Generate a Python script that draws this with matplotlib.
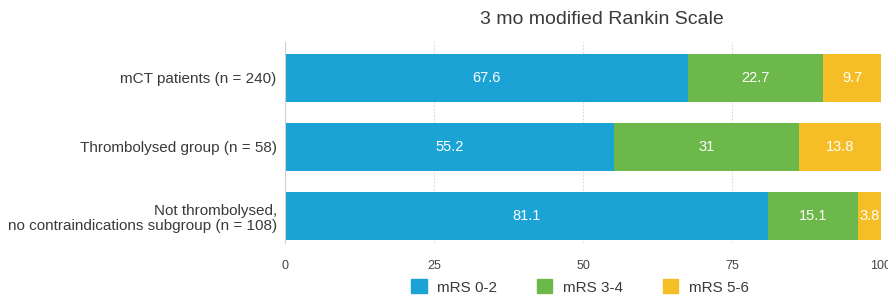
import numpy as np
import matplotlib.pyplot as plt
from matplotlib.patches import Patch

plt.rcParams['font.family'] = ['Liberation Sans', 'DejaVu Sans']

groups = ['mCT patients (n = 240)',
          'Thrombolysed group (n = 58)',
          'Not thrombolysed,\nno contraindications subgroup (n = 108)']
series_names = ['mRS 0-2', 'mRS 3-4', 'mRS 5-6']
mrs_0_2 = [67.6, 55.2, 81.1]
mrs_3_4 = [22.7, 31, 15.1]
mrs_5_6 = [9.7, 13.8, 3.8]
colors = ['#1ba3d6', '#6db84b', '#f5bd26']

fig = plt.figure(figsize=(8.88, 2.97), dpi=100)
ax = fig.add_axes([285 / 888, 1 - 243 / 297, 596 / 888, 201 / 297])

y = np.arange(len(groups))
left = np.zeros(len(groups))
for vals, c in zip([mrs_0_2, mrs_3_4, mrs_5_6], colors):
    vals = np.array(vals, dtype=float)
    ax.barh(y, vals, left=left, height=0.7, color=c, zorder=2)
    for yi, l, v in zip(y, left, vals):
        ax.text(l + v / 2, yi, f'{v:g}', ha='center', va='center',
                color='white', fontsize=10.5, zorder=3)
    left += vals

ax.set_xlim(0, 100)
ax.set_ylim(2.39, -0.52)
ax.set_yticks(y)
ax.set_yticklabels(groups, fontsize=11, color='#3a3a3a', linespacing=1.1)
ax.set_xticks([0, 25, 50, 75, 100])
ax.set_xticklabels(['0', '25', '50', '75', '100'], fontsize=9, color='#444444')
ax.tick_params(length=0, pad=6)
ax.tick_params(axis='x', pad=12)
for s in ['top', 'right', 'bottom']:
    ax.spines[s].set_visible(False)
ax.spines['left'].set_color('#d0d0d0')
ax.grid(axis='x', color='#d8d8d8', linestyle=(0, (1.5, 1.5)), linewidth=0.8, zorder=0)

fig.text(602 / 888, 1 - 20 / 297, '3 mo modified Rankin Scale', ha='center',
         va='center', fontsize=14, color='#3a3a3a')

handles = [Patch(color=c) for c in colors]
fig.legend(handles, series_names, loc='center', bbox_to_anchor=(580 / 888, 1 - 287 / 297),
           ncol=3, frameon=False, fontsize=11, handlelength=1.0, handleheight=1.0,
           columnspacing=2.6, handletextpad=0.7, labelcolor='#3a3a3a',
           borderpad=0)

fig.savefig('out.png', dpi=100)
